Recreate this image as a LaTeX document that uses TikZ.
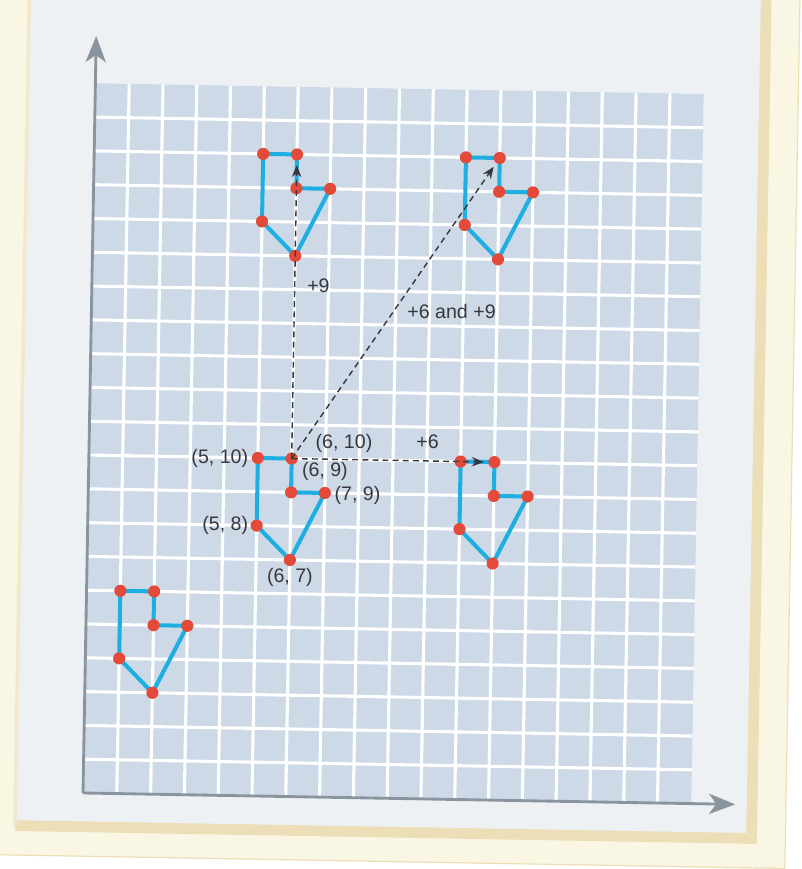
\documentclass[tikz,border=0pt]{standalone}
\usepackage{fontspec}
\setmainfont{Liberation Sans}
\usetikzlibrary{arrows.meta,positioning}

\definecolor{pagebg}{RGB}{237,241,244}
\definecolor{creambg}{RGB}{250,246,228}
\definecolor{beige}{RGB}{236,222,182}
\definecolor{gridblue}{RGB}{205,217,231}
\definecolor{axisgrey}{RGB}{138,148,158}
\definecolor{figcyan}{RGB}{30,174,226}
\definecolor{dotred}{RGB}{228,74,58}
\definecolor{inkgrey}{RGB}{55,55,60}

\tikzset{
  gridline/.style={white, line width=2.6pt},
  axisline/.style={axisgrey, line width=2.4pt, -{Stealth[length=22pt,width=17pt,inset=6pt]}},
  figline/.style={figcyan, line width=3.4pt, line join=round},
  shiftarrow/.style={inkgrey, line width=1.2pt, dash pattern=on 5pt off 3.5pt,
    -{Stealth[length=10pt,width=8pt]}, shorten >=9pt},
  lbl/.style={inkgrey, inner sep=1pt, font=\fontsize{16.5}{19}\selectfont}
}

\begin{document}
\begin{tikzpicture}
  \useasboundingbox[fill=white] (-2.456,-2.249) rectangle (21.272,23.462);
  \begin{scope}[rotate=-1]
    \fill[creambg] (-3,-1.87) rectangle (20.8,25);
    \draw[beige, line width=1pt] (-3,-1.87) -- (20.8,-1.87) -- (20.8,25);
    \fill[pagebg] (-2.0,-1.0) rectangle (19.8,25);
    \draw[beige, line width=9pt] (-2.0,-1.0) -- (19.8,-1.0) -- (19.8,25);
    \draw[beige!70, line width=3pt] (-2.0,25) -- (-2.0,-1.0);

    \fill[gridblue] (0,0) rectangle (18,21);
    \foreach \i in {1,...,17}
      \draw[gridline] (\i,0) -- (\i,21);
    \foreach \j in {1,...,20}
      \draw[gridline] (0,\j) -- (18,\j);

    \coordinate (origin) at (0,0);
    \coordinate (ytip) at (0,22.4);
    \coordinate (xtip) at (19.3,0);
    \draw[axisline] (origin) -- (ytip);
    \draw[axisline] (origin) -- (xtip);

    \foreach \nm/\dx/\dy in {o/0/0, u/0/9, d/6/9, r/6/0, l/-4/-4} {
      \coordinate (\nm1) at (5+\dx,10+\dy);
      \coordinate (\nm2) at (6+\dx,10+\dy);
      \coordinate (\nm3) at (6+\dx,9+\dy);
      \coordinate (\nm4) at (7+\dx,9+\dy);
      \coordinate (\nm5) at (6+\dx,7+\dy);
      \coordinate (\nm6) at (5+\dx,8+\dy);
      \draw[figline] (\nm1) -- (\nm2) -- (\nm3) -- (\nm4) -- (\nm5) -- (\nm6) -- cycle;
      \foreach \k in {1,...,6}
        \fill[dotred] (\nm\k) circle (0.18);
    }

    \draw[shiftarrow] (o2) -- node[lbl, pos=0.567, right=9pt] (plus9) {+9} (u2);
    \draw[shiftarrow] (o2) -- node[lbl, pos=0.49, right=10pt] (plusboth) {+6 and +9} (d2);
    \draw[shiftarrow] (o2) -- node[lbl, pos=0.67, above=9pt] (plus6) {+6} (r2);

    \node[lbl, left=7pt of o1] (c510) {(5, 10)};
    \node[lbl, right=19pt of o2, yshift=13pt] (c610) {(6, 10)};
    \node[lbl, right=8pt of o3, yshift=18pt] (c69) {(6, 9)};
    \node[lbl, right=7pt of o4, yshift=-2pt] (c79) {(7, 9)};
    \node[lbl, left=6pt of o6] (c58) {(5, 8)};
    \node[lbl, below=6pt of o5] (c67) {(6, 7)};
  \end{scope}
\end{tikzpicture}
\end{document}
